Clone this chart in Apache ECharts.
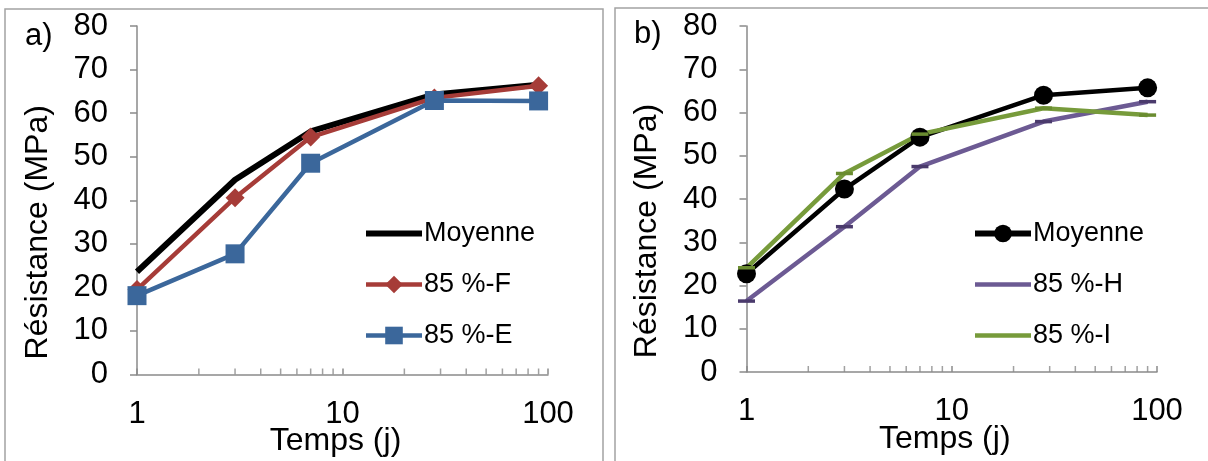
<!DOCTYPE html>
<html>
<head>
<meta charset="utf-8">
<script src="https://cdn.jsdelivr.net/npm/echarts@6/dist/echarts.min.js"></script>
<style>
html,body{margin:0;padding:0;background:#fff;}
#chart{width:1208px;height:461px;}
</style>
</head>
<body>
<div id="chart"></div>
<script>
// ---- data ----
const days = [1, 3, 7, 28, 90];
const moyenneA = [23.6, 44.7, 55.8, 64.3, 66.5];
const f85 = [19.5, 40.6, 54.5, 63.5, 66.3];
const e85 = [18.1, 27.7, 48.5, 62.9, 62.8];
const moyenneB = [22.7, 42.3, 54.3, 64.0, 65.7];
const h85 = [16.4, 33.6, 47.5, 57.9, 62.5];
const i85 = [24.1, 45.9, 55.0, 61.0, 59.4];
const minorTicks = [2, 3, 4, 5, 6, 7, 8, 9, 20, 30, 40, 50, 60, 70, 80, 90];
const seriesNamesA = ['Moyenne', '85 %-F', '85 %-E'];
const seriesNamesB = ['Moyenne', '85 %-H', '85 %-I'];
const xTitle = 'Temps (j)';
const yTitle = 'Résistance (MPa)';

const pairs = v => days.map((d, i) => [d, v[i]]);
const FONT = 'Liberation Sans, Arial, sans-serif';
const AXIS_COL = '#8a8a8a';
const DASH = 'path://M0,0h10v2h-10z';

function xAxisFor(gi) {
  return {
    type: 'log', logBase: 10, gridIndex: gi, min: 1, max: 100,
    name: xTitle, nameLocation: 'middle', nameGap: 51, nameMoveOverlap: false,
    nameTextStyle: { fontFamily: FONT, fontSize: 32, color: '#000', padding: [0, 14, 0, 0] },
    axisLine: { lineStyle: { color: AXIS_COL, width: 1.5 } },
    axisTick: { show: true, inside: true, length: 6, lineStyle: { color: AXIS_COL, width: 1.5 } },
    minorTick: { show: false },
    splitLine: { show: false },
    axisLabel: { fontFamily: FONT, fontSize: 31, color: '#000', margin: 24 }
  };
}
function yAxisFor(gi) {
  return {
    type: 'value', gridIndex: gi, min: 0, max: 80, interval: 10,
    name: yTitle, nameLocation: 'middle', nameGap: 83, nameRotate: 90, nameMoveOverlap: false,
    nameTextStyle: { fontFamily: FONT, fontSize: 32, color: '#000', padding: [0, 64, 0, 0] },
    axisLine: { show: true, lineStyle: { color: AXIS_COL, width: 1.5 } },
    axisTick: { show: true, inside: false, length: 7, lineStyle: { color: AXIS_COL, width: 1.5 } },
    splitLine: { show: false },
    axisLabel: { fontFamily: FONT, fontSize: 31, color: '#000', margin: 29 }
  };
}
function minorSeries(gi) {
  return {
    type: 'scatter', xAxisIndex: gi, yAxisIndex: gi, silent: true, z: 1,
    data: minorTicks.map(t => [t, 0]),
    symbol: 'rect', symbolSize: [1.5, 6], symbolOffset: [0, -3],
    itemStyle: { color: AXIS_COL }, emphasis: { disabled: true }, tooltip: { show: false }
  };
}
function lineSeries(gi, name, vals, color, width, symbol, size, symColor) {
  return {
    type: 'line', name: name, xAxisIndex: gi, yAxisIndex: gi, data: pairs(vals),
    z: 3,
    lineStyle: { color: color, width: width },
    symbol: symbol, symbolSize: size, showSymbol: symbol !== 'none',
    itemStyle: { color: symColor || color, borderWidth: 0 },
    emphasis: { disabled: true }
  };
}

const RED = '#a63c38', BLUE = '#3b679b', GREEN = '#779b3b', PURPLE = '#6c5a93';

function legendFor(names, left, hidden) {
  return {
    data: names.map((n, i) => hidden.indexOf(i) >= 0 ? { name: n, itemStyle: { opacity: 0 } } : n),
    orient: 'vertical', left: left, top: 215,
    itemWidth: 56, itemHeight: 22, itemGap: 24,
    lineStyle: { width: 'inherit' },
    textStyle: { fontFamily: FONT, fontSize: 27, color: '#000', lineHeight: 27, padding: [0, 0, 0, -3] },
    selectedMode: false
  };
}

const option = {
  animation: false,
  backgroundColor: '#fff',
  textStyle: { fontFamily: FONT },
  grid: [
    { left: 137, width: 411, top: 26, bottom: 86.5, outerBoundsMode: 'none', containLabel: false },
    { left: 746.5, width: 410.5, top: 26, bottom: 89, outerBoundsMode: 'none', containLabel: false }
  ],
  xAxis: [xAxisFor(0), xAxisFor(1)],
  yAxis: [yAxisFor(0), yAxisFor(1)],
  legend: [legendFor(seriesNamesA, 358, [0]), legendFor(seriesNamesB, 967, [1, 2])],
  graphic: [
    { type: 'rect', shape: { x: 5, y: 9, width: 598, height: 470 }, style: { fill: 'none', stroke: '#a3a3a3', lineWidth: 1.5 }, silent: true, z: -10 },
    { type: 'rect', shape: { x: 615, y: 8, width: 600, height: 470 }, style: { fill: 'none', stroke: '#a3a3a3', lineWidth: 1.5 }, silent: true, z: -10 },
    { type: 'text', left: 25, top: 21, style: { text: 'a)', font: '31px ' + FONT, fill: '#000' } },
    { type: 'text', left: 634, top: 19, style: { text: 'b)', font: '31px ' + FONT, fill: '#000' } }
  ],
  series: [
    minorSeries(0),
    minorSeries(1),
    lineSeries(0, seriesNamesA[0], moyenneA, '#000', 6, 'none', 0),
    lineSeries(0, seriesNamesA[1], f85, RED, 4.5, 'diamond', 19),
    lineSeries(0, seriesNamesA[2], e85, BLUE, 4.5, 'rect', 19),
    lineSeries(1, seriesNamesB[0], moyenneB, '#000', 4.5, 'circle', 19),
    lineSeries(1, seriesNamesB[1], h85, PURPLE, 4.5, DASH, [17, 3.5], '#4a3a6c'),
    lineSeries(1, seriesNamesB[2], i85, GREEN, 4.5, DASH, [17, 3.5], '#6a8c30')
  ]
};

const chart = echarts.init(document.getElementById('chart'), null, { renderer: 'canvas' });
chart.setOption(option);
</script>
</body>
</html>
